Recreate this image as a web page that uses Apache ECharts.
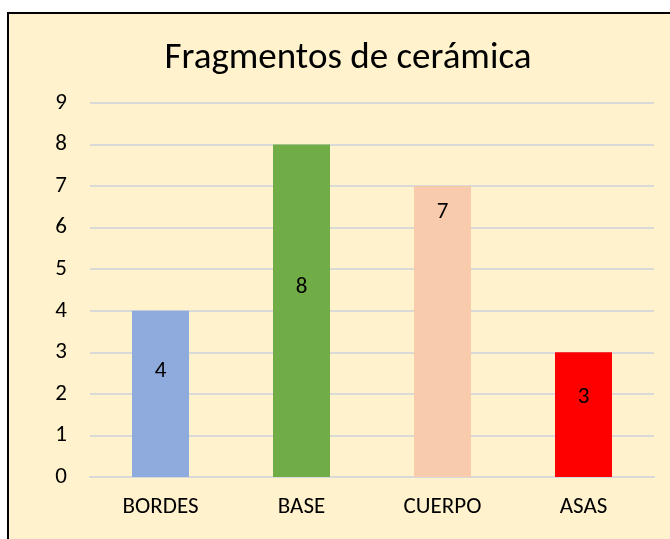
<!DOCTYPE html>
<html>
<head>
<meta charset="utf-8">
<script src="https://cdn.jsdelivr.net/npm/echarts@6/dist/echarts.min.js"></script>
<style>
  html, body { margin: 0; padding: 0; background: #ffffff; }
  #frame {
    position: absolute; left: 7px; top: 12px; width: 670px; height: 540px;
    background: #FFF2CC; border-left: 2px solid #000; border-top: 2px solid #000;
    box-sizing: border-box;
  }
  #main { position: absolute; left: 0; top: 0; width: 670px; height: 539px; }
</style>
</head>
<body>
<div id="frame"></div>
<div id="main"></div>
<script>
// datos del gráfico
var categorias = ["BORDES", "BASE", "CUERPO", "ASAS"];
var valores = [4, 8, 7, 3];
var colores = ["#8FAADC", "#70AD47", "#F8CBAD", "#FF0000"];

var myChart = echarts.init(document.getElementById("main"));
var fuente = "Carlito, 'Open Sans', 'Liberation Sans', sans-serif";
// desplazamiento vertical de cada etiqueta (como en el original)
var ajusteEtiqueta = [-23, -24, -119, -17];

var option = {
    backgroundColor: "transparent",
    title: {
        text: "Fragmentos de cerámica",
        left: 343, top: 35, textAlign: "center",
        textStyle: { fontFamily: fuente, fontSize: 37, fontWeight: "normal", color: "#000" }
    },
    grid: { left: 90, right: 16, top: 103, bottom: 62 },
    xAxis: {
        type: "category",
        data: categorias,
        axisTick: { show: false },
        axisLine: { lineStyle: { color: "#D9D9D9", width: 2 } },
        axisLabel: { color: "#000", fontSize: 23, fontFamily: fuente, margin: 19 }
    },
    yAxis: {
        type: "value",
        min: 0, max: 9, interval: 1,
        axisLine: { show: false },
        axisTick: { show: false },
        splitLine: { lineStyle: { color: "#D9D9D9", width: 2 } },
        axisLabel: { color: "#000", fontSize: 23, fontFamily: fuente, margin: 23 }
    },
    series: [{
        type: "bar",
        barWidth: 57,
        data: valores.map(function (v, i) {
            return {
                value: v,
                itemStyle: { color: colores[i] },
                label: { offset: [0, ajusteEtiqueta[i]] }
            };
        }),
        label: {
            show: true, position: "inside",
            color: "#000", fontSize: 23, fontFamily: fuente
        }
    }]
};
myChart.setOption(option);
</script>
</body>
</html>
